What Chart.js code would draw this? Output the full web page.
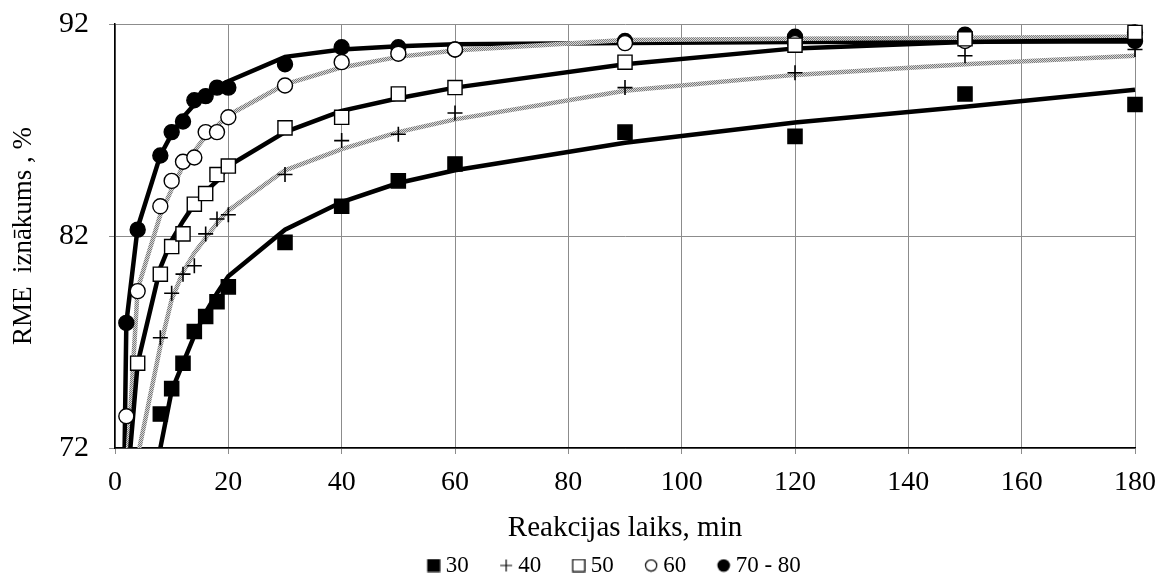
<!DOCTYPE html>
<html>
<head>
<meta charset="utf-8">
<script src="https://cdn.jsdelivr.net/npm/chart.js@4.4.1/dist/chart.umd.min.js"></script>
<style>
  html, body { margin: 0; padding: 0; background: #fff; }
  #wrap { width: 1157px; height: 579px; }
</style>
</head>
<body>
<div id="wrap"><canvas id="chart" width="1157" height="579"></canvas></div>
<script>
// measured points (reaction time, min -> RME yield, %)
const times30 = [8, 10, 12, 14, 16, 18, 20, 30, 40, 50, 60, 90, 120, 150, 180];
const yield30 = [73.6, 74.8, 76.0, 77.5, 78.2, 78.9, 79.6, 81.7, 83.4, 84.6, 85.4, 86.9, 86.7, 88.7, 88.2];
const times40 = [8, 10, 12, 14, 16, 18, 20, 30, 40, 50, 60, 90, 120, 150, 180];
const yield40 = [77.2, 79.3, 80.2, 80.6, 82.1, 82.8, 83.0, 84.9, 86.5, 86.8, 87.8, 89.0, 89.7, 90.5, 90.8];
const times50 = [4, 8, 10, 12, 14, 16, 18, 20, 30, 40, 50, 60, 90, 120, 150, 180];
const yield50 = [76.0, 80.2, 81.5, 82.1, 83.5, 84.0, 84.9, 85.3, 87.1, 87.6, 88.7, 89.0, 90.2, 91.0, 91.3, 91.6];
const times60 = [2, 4, 8, 10, 12, 14, 16, 18, 20, 30, 40, 50, 60, 90, 120, 150, 180];
const yield60 = [73.5, 79.4, 83.4, 84.6, 85.5, 85.7, 86.9, 86.9, 87.6, 89.1, 90.2, 90.6, 90.8, 91.1, 91.1, 91.2, 91.6];
const times70 = [2, 4, 8, 10, 12, 14, 16, 18, 20, 30, 40, 50, 60, 90, 120, 150, 180];
const yield70 = [77.9, 82.3, 85.8, 86.9, 87.4, 88.4, 88.6, 89.0, 89.0, 90.1, 90.9, 90.9, 90.8, 91.2, 91.4, 91.5, 91.2];

// model curves
const fitTimes30 = [4, 8, 10, 12, 14, 16, 18, 20, 30, 40, 50, 60, 90, 120, 150, 180];
const fit30 = [64.0, 72.0, 74.7, 76.0, 77.3, 78.4, 79.3, 80.1, 82.3, 83.6, 84.5, 85.1, 86.4, 87.35, 88.1, 88.9];
const fitTimes40 = [2, 4, 8, 10, 12, 14, 16, 18, 20, 30, 40, 50, 60, 90, 120, 150, 180];
const fit40 = [66.0, 71.6, 76.8, 79.0, 80.3, 81.2, 81.9, 82.6, 83.2, 85.1, 86.1, 86.9, 87.5, 88.85, 89.6, 90.1, 90.5];
const fitTimes50 = [2, 4, 8, 10, 12, 14, 16, 18, 20, 30, 40, 50, 60, 90, 120, 150, 180];
const fit50 = [69.8, 76.0, 80.5, 81.8, 82.7, 83.5, 84.1, 84.6, 85.3, 86.9, 87.9, 88.5, 89.0, 90.1, 90.85, 91.15, 91.25];
const fitTimes60 = [2, 4, 8, 10, 12, 14, 16, 18, 20, 30, 40, 50, 60, 90, 120, 150, 180];
const fit60 = [70.6, 79.5, 83.0, 84.2, 85.3, 86.0, 86.7, 87.2, 87.7, 89.15, 89.95, 90.45, 90.75, 91.25, 91.3, 91.35, 91.4];
const fitTimes70 = [0, 2, 4, 8, 10, 12, 14, 16, 18, 20, 30, 40, 50, 60, 90, 120, 150, 180];
const fit70 = [39.0, 77.9, 82.4, 85.8, 86.8, 87.6, 88.2, 88.7, 89.0, 89.3, 90.45, 90.8, 90.95, 91.05, 91.1, 91.15, 91.17, 91.18];

const seriesLabels = ['30', '40', '50', '60', '70 - 80'];
const xTicks = [0, 20, 40, 60, 80, 100, 120, 140, 160, 180];
const yTicks = [72, 82, 92];

const FONT = "'Liberation Serif', 'Times New Roman', serif";

function pts(xs, ys) {
  return xs.map((x, i) => ({ x, y: ys[i] }));
}

// speckled grey used for the 40 and 60 curves
function greyPattern() {
  const c = document.createElement('canvas');
  c.width = 2; c.height = 2;
  const g = c.getContext('2d');
  g.fillStyle = '#d8d8d8';
  g.fillRect(0, 0, 2, 2);
  g.fillStyle = '#7a7a7a';
  g.fillRect(0, 0, 1, 1);
  g.fillRect(1, 1, 1, 1);
  return g.createPattern(c, 'repeat');
}
const grey = greyPattern();

// legend glyphs: marker at the right end of a wider transparent image so it
// hugs its label and leaves a gap before it
const LEG_BOX = 38, LEG_W = 51, LEG_H = 14;
function legendIcon(kind) {
  const c = document.createElement('canvas');
  c.width = LEG_W; c.height = LEG_H;
  const g = c.getContext('2d');
  const cx = LEG_W - 7, cy = 7;
  g.strokeStyle = '#000';
  g.fillStyle = '#000';
  g.lineWidth = 1.2;
  if (kind === 'fillRect') g.fillRect(cx - 6.5, cy - 6.5, 13, 13);
  if (kind === 'openRect') { g.fillStyle = '#fff'; g.fillRect(cx - 6, cy - 6, 12, 12); g.strokeRect(cx - 6, cy - 6, 12, 12); }
  if (kind === 'cross') { g.beginPath(); g.moveTo(cx - 6, cy); g.lineTo(cx + 6, cy); g.moveTo(cx, cy - 6); g.lineTo(cx, cy + 6); g.stroke(); }
  if (kind === 'openCircle') { g.beginPath(); g.arc(cx, cy, 5.6, 0, Math.PI * 2); g.fillStyle = '#fff'; g.fill(); g.stroke(); }
  if (kind === 'fillCircle') { g.beginPath(); g.arc(cx, cy, 6.3, 0, Math.PI * 2); g.fill(); }
  return c;
}
const legendIcons = ['fillRect', 'cross', 'openRect', 'openCircle', 'fillCircle'].map(legendIcon);

// nudge the legend to where it sits in the original
const LEG_DX = 31, LEG_DY = 8;
const legendShift = {
  id: 'legendShift',
  afterLayout(chart) {
    const l = chart.legend;
    if (!l) return;
    l.left += LEG_DX; l.right += LEG_DX;
    l.top += LEG_DY; l.bottom += LEG_DY;
  }
};

function markers(label, xs, ys, style, fill, radius) {
  return {
    type: 'scatter', label, data: pts(xs, ys), clip: false,
    pointStyle: style, pointRadius: radius, pointHoverRadius: radius,
    pointBackgroundColor: fill, pointBorderColor: '#000',
    pointBorderWidth: style === 'cross' ? 1.6 : 1.4,
    backgroundColor: fill, borderColor: '#000',
    borderWidth: style === 'cross' ? 1.6 : 1.4
  };
}

function curve(xs, ys, color) {
  return {
    type: 'line', label: '', data: pts(xs, ys),
    borderColor: color, borderWidth: 4.5, pointRadius: 0,
    fill: false, tension: 0, clip: { left: 0, top: 4, right: 4, bottom: 0 }
  };
}

new Chart(document.getElementById('chart'), {
  type: 'scatter',
  data: {
    datasets: [
      markers(seriesLabels[0], times30, yield30, 'rect', '#000', 10),
      markers(seriesLabels[1], times40, yield40, 'cross', '#000', 7.5),
      markers(seriesLabels[2], times50, yield50, 'rect', '#fff', 10),
      markers(seriesLabels[3], times60, yield60, 'circle', '#fff', 7.5),
      markers(seriesLabels[4], times70, yield70, 'circle', '#000', 7.5),
      curve(fitTimes30, fit30, '#000'),
      curve(fitTimes40, fit40, grey),
      curve(fitTimes50, fit50, '#000'),
      curve(fitTimes60, fit60, grey),
      curve(fitTimes70, fit70, '#000')
    ]
  },
  plugins: [legendShift],
  options: {
    responsive: false,
    animation: false,
    layout: { padding: { top: 24, right: 22, left: 0, bottom: 0 } },
    scales: {
      x: {
        type: 'linear', min: 0, max: 180,
        afterBuildTicks: s => { s.ticks = xTicks.map(v => ({ value: v })); },
        afterFit: s => { s.height = 98; s.paddingLeft = 0; s.paddingRight = 0; },
        border: { color: '#000', width: 1.5 },
        grid: { color: '#8c8c8c', lineWidth: 1, tickLength: 6 },
        ticks: { color: '#000', font: { family: FONT, size: 28 }, padding: 12 },
        title: { display: true, text: 'Reakcijas laiks, min', color: '#000',
                 font: { family: FONT, size: 29 }, padding: { top: 4, bottom: 0 } }
      },
      y: {
        min: 72, max: 92,
        afterBuildTicks: s => { s.ticks = yTicks.map(v => ({ value: v })); },
        afterFit: s => { s.width = 115; s.paddingTop = 0; s.paddingBottom = 0; },
        border: { color: '#000', width: 1.5 },
        grid: { color: '#8c8c8c', lineWidth: 1, tickLength: 6 },
        ticks: { color: '#000', font: { family: FONT, size: 30 }, padding: 20 },
        title: { display: true, text: 'RME  iznākums , %', color: '#000',
                 font: { family: FONT, size: 27 }, padding: { top: 8, bottom: 10 } }
      }
    },
    plugins: {
      tooltip: { enabled: false },
      legend: {
        position: 'bottom',
        labels: {
          usePointStyle: true,
          pointStyleWidth: LEG_BOX,
          boxHeight: LEG_H,
          color: '#000',
          font: { family: FONT, size: 23 },
          padding: 0,
          generateLabels: chart => Chart.defaults.plugins.legend.labels.generateLabels(chart)
            .filter(item => item.text !== '')
            .map(item => Object.assign(item, { pointStyle: legendIcons[item.datasetIndex] }))
        }
      }
    }
  }
});
</script>
</body>
</html>
